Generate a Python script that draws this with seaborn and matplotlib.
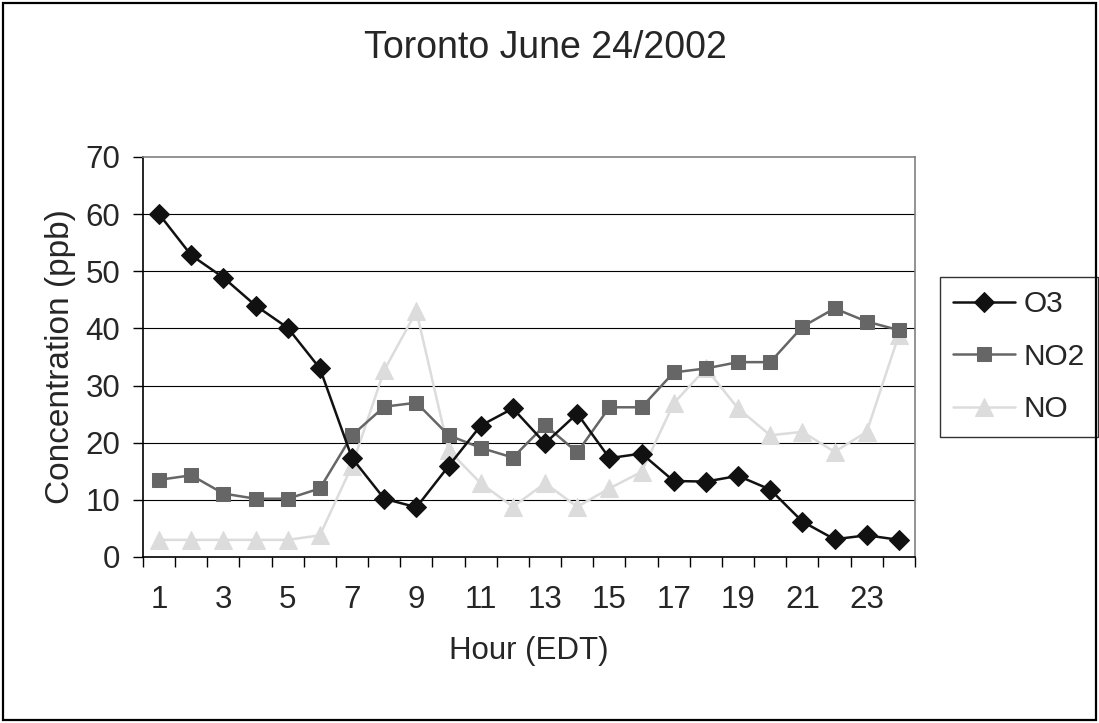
import matplotlib
matplotlib.use("Agg")
import matplotlib.pyplot as plt
import seaborn as sns
import numpy as np
import pandas as pd
from matplotlib.patches import Rectangle
from matplotlib.ticker import FixedLocator

hours = list(range(1, 25))
o3 = [60, 52.8, 48.9, 44, 40.1, 33, 17.3, 10.2, 8.7, 15.9, 23, 26, 19.9, 25.1,
      17.3, 18.1, 13.3, 13.2, 14.2, 11.8, 6.2, 3.1, 3.8, 3.0]
no2 = [13.5, 14.3, 11.1, 10.2, 10.2, 12, 21.3, 26.3, 27, 21.3, 19.1, 17.4, 23.1,
       18.3, 26.2, 26.2, 32.3, 33, 34.1, 34.1, 40.3, 43.5, 41.2, 39.7]
no = [3, 3, 3, 3, 3, 3.8, 16, 32.7, 43, 18.7, 12.9, 8.8, 12.9, 8.8, 12, 14.9,
      26.9, 33, 26, 21.3, 21.9, 18.4, 21.9, 38.9]
series_names = ["O3", "NO2", "NO"]
x_tick_labels = [str(h) for h in range(1, 24, 2)]
y_ticks = list(range(0, 71, 10))

sns.set_style("white")
plt.rcParams["font.family"] = ["Liberation Sans", "DejaVu Sans"]

W, H = 1099, 723
fig = plt.figure(figsize=(W / 100, H / 100), dpi=100)
ax = fig.add_axes([143 / W, (H - 557) / H, 772 / W, 400 / H])

df = pd.DataFrame({"hour": hours * 3,
                   "value": o3 + no2 + no,
                   "series": ["O3"] * 24 + ["NO2"] * 24 + ["NO"] * 24})

styles = {
    "NO": dict(color="#dcdcdc", marker="^", markersize=13),
    "NO2": dict(color="#666666", marker="s", markersize=10),
    "O3": dict(color="#111111", marker="D", markersize=10.5),
}
for i, name in enumerate(["NO", "NO2", "O3"]):
    st = styles[name]
    sub = df[df["series"] == name]
    sns.lineplot(data=sub, x="hour", y="value", ax=ax, color=st["color"],
                 marker=st["marker"], markersize=st["markersize"],
                 markeredgecolor=st["color"], markerfacecolor=st["color"],
                 linewidth=1.8, label=name, legend=False, zorder=3 + i)

FS = 22.5
ax.set_xlim(0.5, 24.5)
ax.set_ylim(0, 70)
ax.set_yticks(y_ticks)
ax.set_xticks(list(range(1, 24, 2)))
ax.set_xticklabels(x_tick_labels)
ax.xaxis.set_minor_locator(FixedLocator(np.arange(0.5, 24.6, 1.0)))
ax.tick_params(axis="x", which="major", length=0, pad=20, labelsize=FS)
ax.tick_params(axis="x", which="minor", length=7.2, width=1, color="black",
               direction="out", bottom=True)
ax.tick_params(axis="y", which="major", length=7.2, width=1, color="black",
               direction="out", left=True, pad=9, labelsize=FS)

for yv in y_ticks[1:-1]:
    ax.axhline(yv, color="black", linewidth=0.8, zorder=1)

ax.spines["left"].set_color("black")
ax.spines["bottom"].set_color("black")
ax.spines["top"].set_color("#808080")
ax.spines["right"].set_color("#808080")
for s in ax.spines.values():
    s.set_linewidth(1.2)

ax.set_xlabel("Hour (EDT)", fontsize=22.5, labelpad=15)
ax.set_ylabel("Concentration (ppb)", fontsize=24, labelpad=7)

fig.text(545 / W, 1 - 48 / H, "Toronto June 24/2002",
         ha="center", va="center", fontsize=27)

handles, labels = ax.get_legend_handles_labels()
order = [labels.index(n) for n in series_names]
leg = ax.legend([handles[i] for i in order], [labels[i] for i in order],
                loc="upper left", bbox_to_anchor=(940 / W, 1 - 277 / H),
                bbox_transform=fig.transFigure, borderaxespad=0,
                fontsize=21.5, frameon=True, fancybox=False, shadow=False,
                handlelength=2.05, handletextpad=0.3, labelspacing=0.82,
                borderpad=0.45)
leg.get_frame().set_edgecolor("black")
leg.get_frame().set_linewidth(1.0)

fig.patches.append(Rectangle((3 / W, 3 / H), (W - 6) / W, (H - 6) / H,
                             transform=fig.transFigure, fill=False,
                             edgecolor="black", linewidth=1.6))

fig.savefig("out.png", dpi=100)
